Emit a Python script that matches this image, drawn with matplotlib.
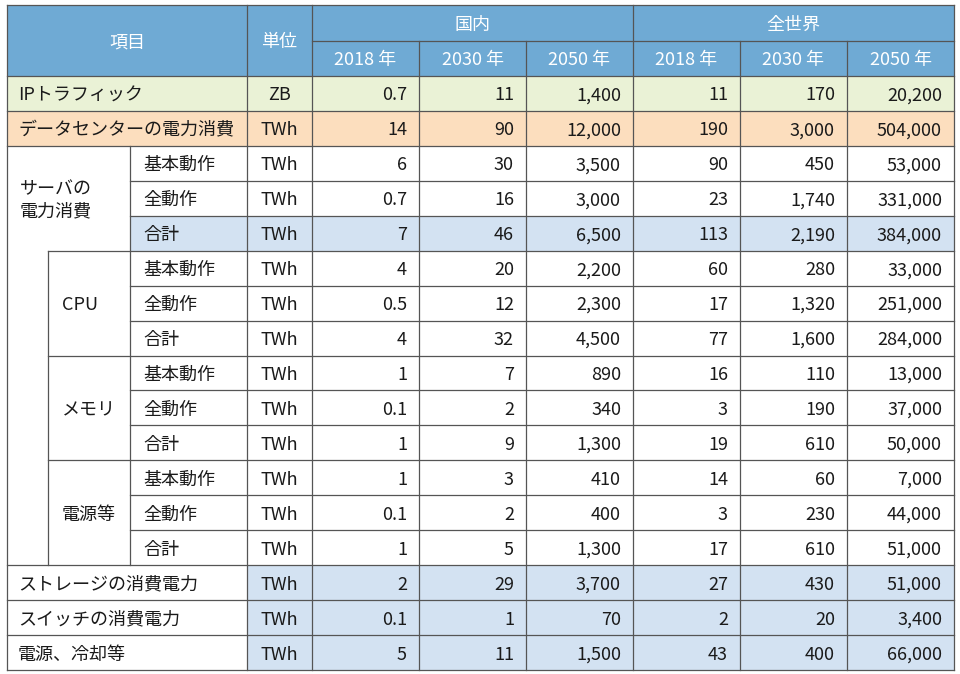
import matplotlib.pyplot as plt
from matplotlib.patches import Rectangle

plt.rcParams['font.family'] = ['Noto Sans CJK JP', 'DejaVu Sans']

# ---- data ----
regions = ['国内', '全世界']
years = ['2018 年', '2030 年', '2050 年']

top_items = ['IPトラフィック', 'データセンターの電力消費']
server_label = 'サーバの\n電力消費'
groups = ['CPU', 'メモリ', '電源等']
sub_items = ['基本動作', '全動作', '合計']
bottom_items = ['ストレージの消費電力', 'スイッチの消費電力', '電源、冷却等']

units = ['ZB'] + ['TWh'] * 16

# rows in order: IP, DC, server(3), CPU(3), memory(3), power supply(3), storage, switch, power/cooling
domestic = [
    [0.7, 11, 1400],
    [14, 90, 12000],
    [6, 30, 3500],
    [0.7, 16, 3000],
    [7, 46, 6500],
    [4, 20, 2200],
    [0.5, 12, 2300],
    [4, 32, 4500],
    [1, 7, 890],
    [0.1, 2, 340],
    [1, 9, 1300],
    [1, 3, 410],
    [0.1, 2, 400],
    [1, 5, 1300],
    [2, 29, 3700],
    [0.1, 1, 70],
    [5, 11, 1500],
]
world = [
    [11, 170, 20200],
    [190, 3000, 504000],
    [90, 450, 53000],
    [23, 1740, 331000],
    [113, 2190, 384000],
    [60, 280, 33000],
    [17, 1320, 251000],
    [77, 1600, 284000],
    [16, 110, 13000],
    [3, 190, 37000],
    [19, 610, 50000],
    [14, 60, 7000],
    [3, 230, 44000],
    [17, 610, 51000],
    [27, 430, 51000],
    [2, 20, 3400],
    [43, 400, 66000],
]

# ---- layout (pixels) ----
HEAD_BLUE = '#6FAAD4'
GREEN = '#EAF2D6'
ORANGE = '#FCDEBE'
LIGHT_BLUE = '#D3E2F2'
LINE = '#555555'
FS = 13
DY = 2  # nudge text down so it sits in the middle of the cell

x_left, x_grp, x_sub, x_unit, x_right = 7, 48, 130, 247, 954
val_edges = [312, 419, 526, 633, 740, 847, 954]
y_top, y_mid, y_head = 5, 41, 76
y_bottom = 670
n_rows = len(domestic)
rh = (y_bottom - y_head) / n_rows
ys = [y_head + k * rh for k in range(n_rows + 1)]


def fmt(v):
    return f'{v:,.0f}' if v == int(v) else f'{v:g}'


fig = plt.figure(figsize=(9.6, 6.74), dpi=100)
ax = fig.add_axes([0, 0, 1, 1])
ax.set_xlim(0, 960)
ax.set_ylim(674, 0)
ax.axis('off')


def fill(x0, x1, y0, y1, c):
    ax.add_patch(Rectangle((x0, y0), x1 - x0, y1 - y0, facecolor=c, edgecolor='none', zorder=1))


def hline(y, x0, x1=x_right):
    ax.plot([x0, x1], [y, y], color=LINE, lw=0.9, zorder=3, solid_capstyle='projecting')


def vline(x, y0, y1=y_bottom):
    ax.plot([x, x], [y0, y1], color=LINE, lw=0.9, zorder=3, solid_capstyle='projecting')


# backgrounds
fill(x_left, x_right, y_top, y_head, HEAD_BLUE)
fill(x_left, x_right, ys[0], ys[1], GREEN)
fill(x_left, x_right, ys[1], ys[2], ORANGE)
fill(x_sub, x_right, ys[4], ys[5], LIGHT_BLUE)
for r in range(14, 17):
    fill(x_unit, x_right, ys[r], ys[r + 1], LIGHT_BLUE)

# lines
hline(y_top, x_left)
hline(y_mid, val_edges[0])
hline(y_head, x_left)
for k in range(1, n_rows + 1):
    if k in (3, 4, 6, 7, 9, 10, 12, 13):
        hline(ys[k], x_sub)
    elif k in (5, 8, 11):
        hline(ys[k], x_grp)
    else:
        hline(ys[k], x_left)
vline(x_left, y_top)
vline(x_unit, y_top)
for i, x in enumerate(val_edges):
    vline(x, y_top if i in (0, 3, 6) else y_mid)
vline(x_sub, ys[2], ys[14])
vline(x_grp, ys[5], ys[14])

# header text
hc = dict(color='white', fontsize=FS, ha='center', va='center', zorder=4)
ax.text((x_left + x_unit) / 2, (y_top + y_head) / 2 + DY, '項目', **hc)
ax.text((x_unit + val_edges[0]) / 2, (y_top + y_head) / 2 + DY, '単位', **hc)
for i, reg in enumerate(regions):
    ax.text((val_edges[3 * i] + val_edges[3 * i + 3]) / 2, (y_top + y_mid) / 2 + DY, reg, **hc)
    for j, yr in enumerate(years):
        c = 3 * i + j
        ax.text((val_edges[c] + val_edges[c + 1]) / 2, (y_mid + y_head) / 2 + DY, yr, **hc)

tc = dict(color='#1a1a1a', fontsize=FS, va='center', zorder=4)


def ymid(r):
    return (ys[r] + ys[r + 1]) / 2 + DY


# item labels
for r, name in enumerate(top_items):
    ax.text(x_left + 11, ymid(r), name, ha='left', **tc)
ax.text(x_left + 13, (ys[2] + ys[5]) / 2 + DY, server_label, ha='left', linespacing=1.35, **tc)
for g, name in enumerate(groups):
    r0 = 5 + 3 * g
    ax.text(x_grp + 14, (ys[r0] + ys[r0 + 3]) / 2 + DY, name, ha='left', **tc)
for r in range(2, 14):
    ax.text(x_sub + 13, ymid(r), sub_items[(r - 2) % 3], ha='left', **tc)
for i, name in enumerate(bottom_items):
    ax.text(x_left + 11, ymid(14 + i), name, ha='left', **tc)

# units and values
for r in range(n_rows):
    ax.text((x_unit + val_edges[0]) / 2, ymid(r), units[r], ha='center', **tc)
    for c, v in enumerate(domestic[r] + world[r]):
        ax.text(val_edges[c + 1] - 12, ymid(r), fmt(v), ha='right', **tc)

fig.savefig('out.png', dpi=100)
